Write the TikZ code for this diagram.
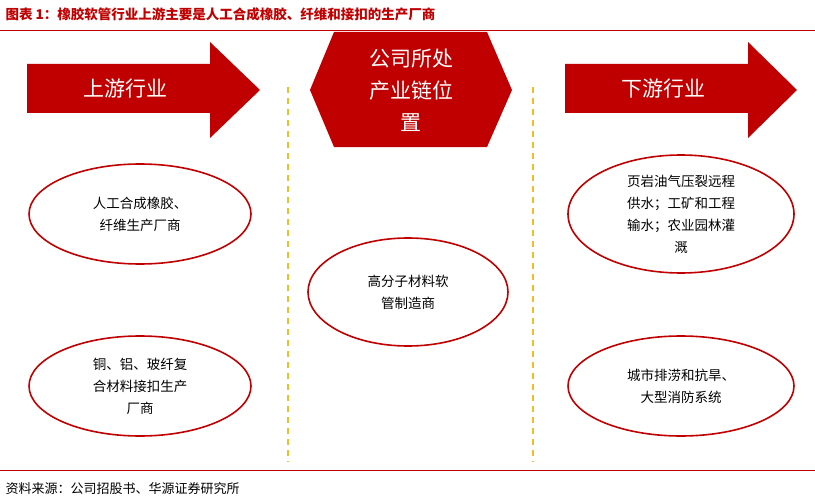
\documentclass[tikz,border=0pt]{standalone}
\usepackage{fontspec}
\setmainfont{Noto Sans CJK SC}
\definecolor{deepred}{RGB}{192,0,0}
\definecolor{gold}{RGB}{240,190,40}
\tikzset{
  bubble/.style={draw=deepred, line width=1.6pt, ellipse, align=center, font=\fontsize{13.5}{22}\selectfont},
  guide/.style={gold, line width=1.2pt, dash pattern=on 6pt off 5pt},
  heading/.style={white, font=\fontsize{21}{28}\selectfont, align=center}
}
\usetikzlibrary{shapes.geometric}
\begin{document}
\begin{tikzpicture}[x=1pt,y=-1pt]
      \useasboundingbox (0,0) rectangle (815,503) ;
      \node[anchor=west, deepred, font=\fontsize{13.5}{16}\selectfont\bfseries] (title) at (2,14) %
      {图表 1：橡胶软管行业上游主要是人工合成橡胶、纤维和接扣的生产厂商} ;
      \draw[deepred, line width=0.8pt] (0,30) -- (815,30) ;
      \draw[deepred, line width=0.8pt] (0,470) -- (815,470) ;
      \node[anchor=west, font=\fontsize{13}{15}\selectfont] (src) at (2,489) {资料来源：公司招股书、华源证券研究所} ;
      \fill[deepred] (27,64) -- (210,64) -- (210,42) -- (260,90) -- (210,138) -- (210,113) -- (27,113) -- cycle ;
      \node[heading] (up) at (125,89) {上游行业} ;
      \fill[deepred] (334,32) -- (487,32) -- (512,90) -- (487,147) -- (334,147) -- (310,90) -- cycle ;
      \node[heading, font=\fontsize{21}{32}\selectfont] (mid) at (411,90) {公司所处\\产业链位\\置} ;
      \fill[deepred] (565,64) -- (748,64) -- (748,42) -- (797,90) -- (748,138) -- (748,113) -- (565,113) -- cycle ;
      \node[heading] (down) at (663,89) {下游行业} ;
      \draw[guide] (288,87) -- (288,462) ;
      \draw[guide] (533,87) -- (533,462) ;
      \node[bubble, minimum width=222pt, minimum height=100pt, inner sep=0pt] (u1) at (140,214) {人工合成橡胶、\\纤维生产厂商} ;
      \node[bubble, minimum width=222pt, minimum height=100pt, inner sep=0pt] (u2) at (140,386) {铜、铝、玻纤复\\合材料接扣生产\\厂商} ;
      \node[bubble, minimum width=200pt, minimum height=108pt, inner sep=0pt] (m1) at (408,292) {高分子材料软\\管制造商} ;
      \node[bubble, minimum width=226pt, minimum height=118pt, inner sep=0pt] (d1) at (681,214) {页岩油气压裂远程\\供水；工矿和工程\\输水；农业园林灌\\溉} ;
      \node[bubble, minimum width=226pt, minimum height=100pt, inner sep=0pt] (d2) at (681,386) {城市排涝和抗旱、\\大型消防系统} ;
    \end{tikzpicture}
\end{document}
